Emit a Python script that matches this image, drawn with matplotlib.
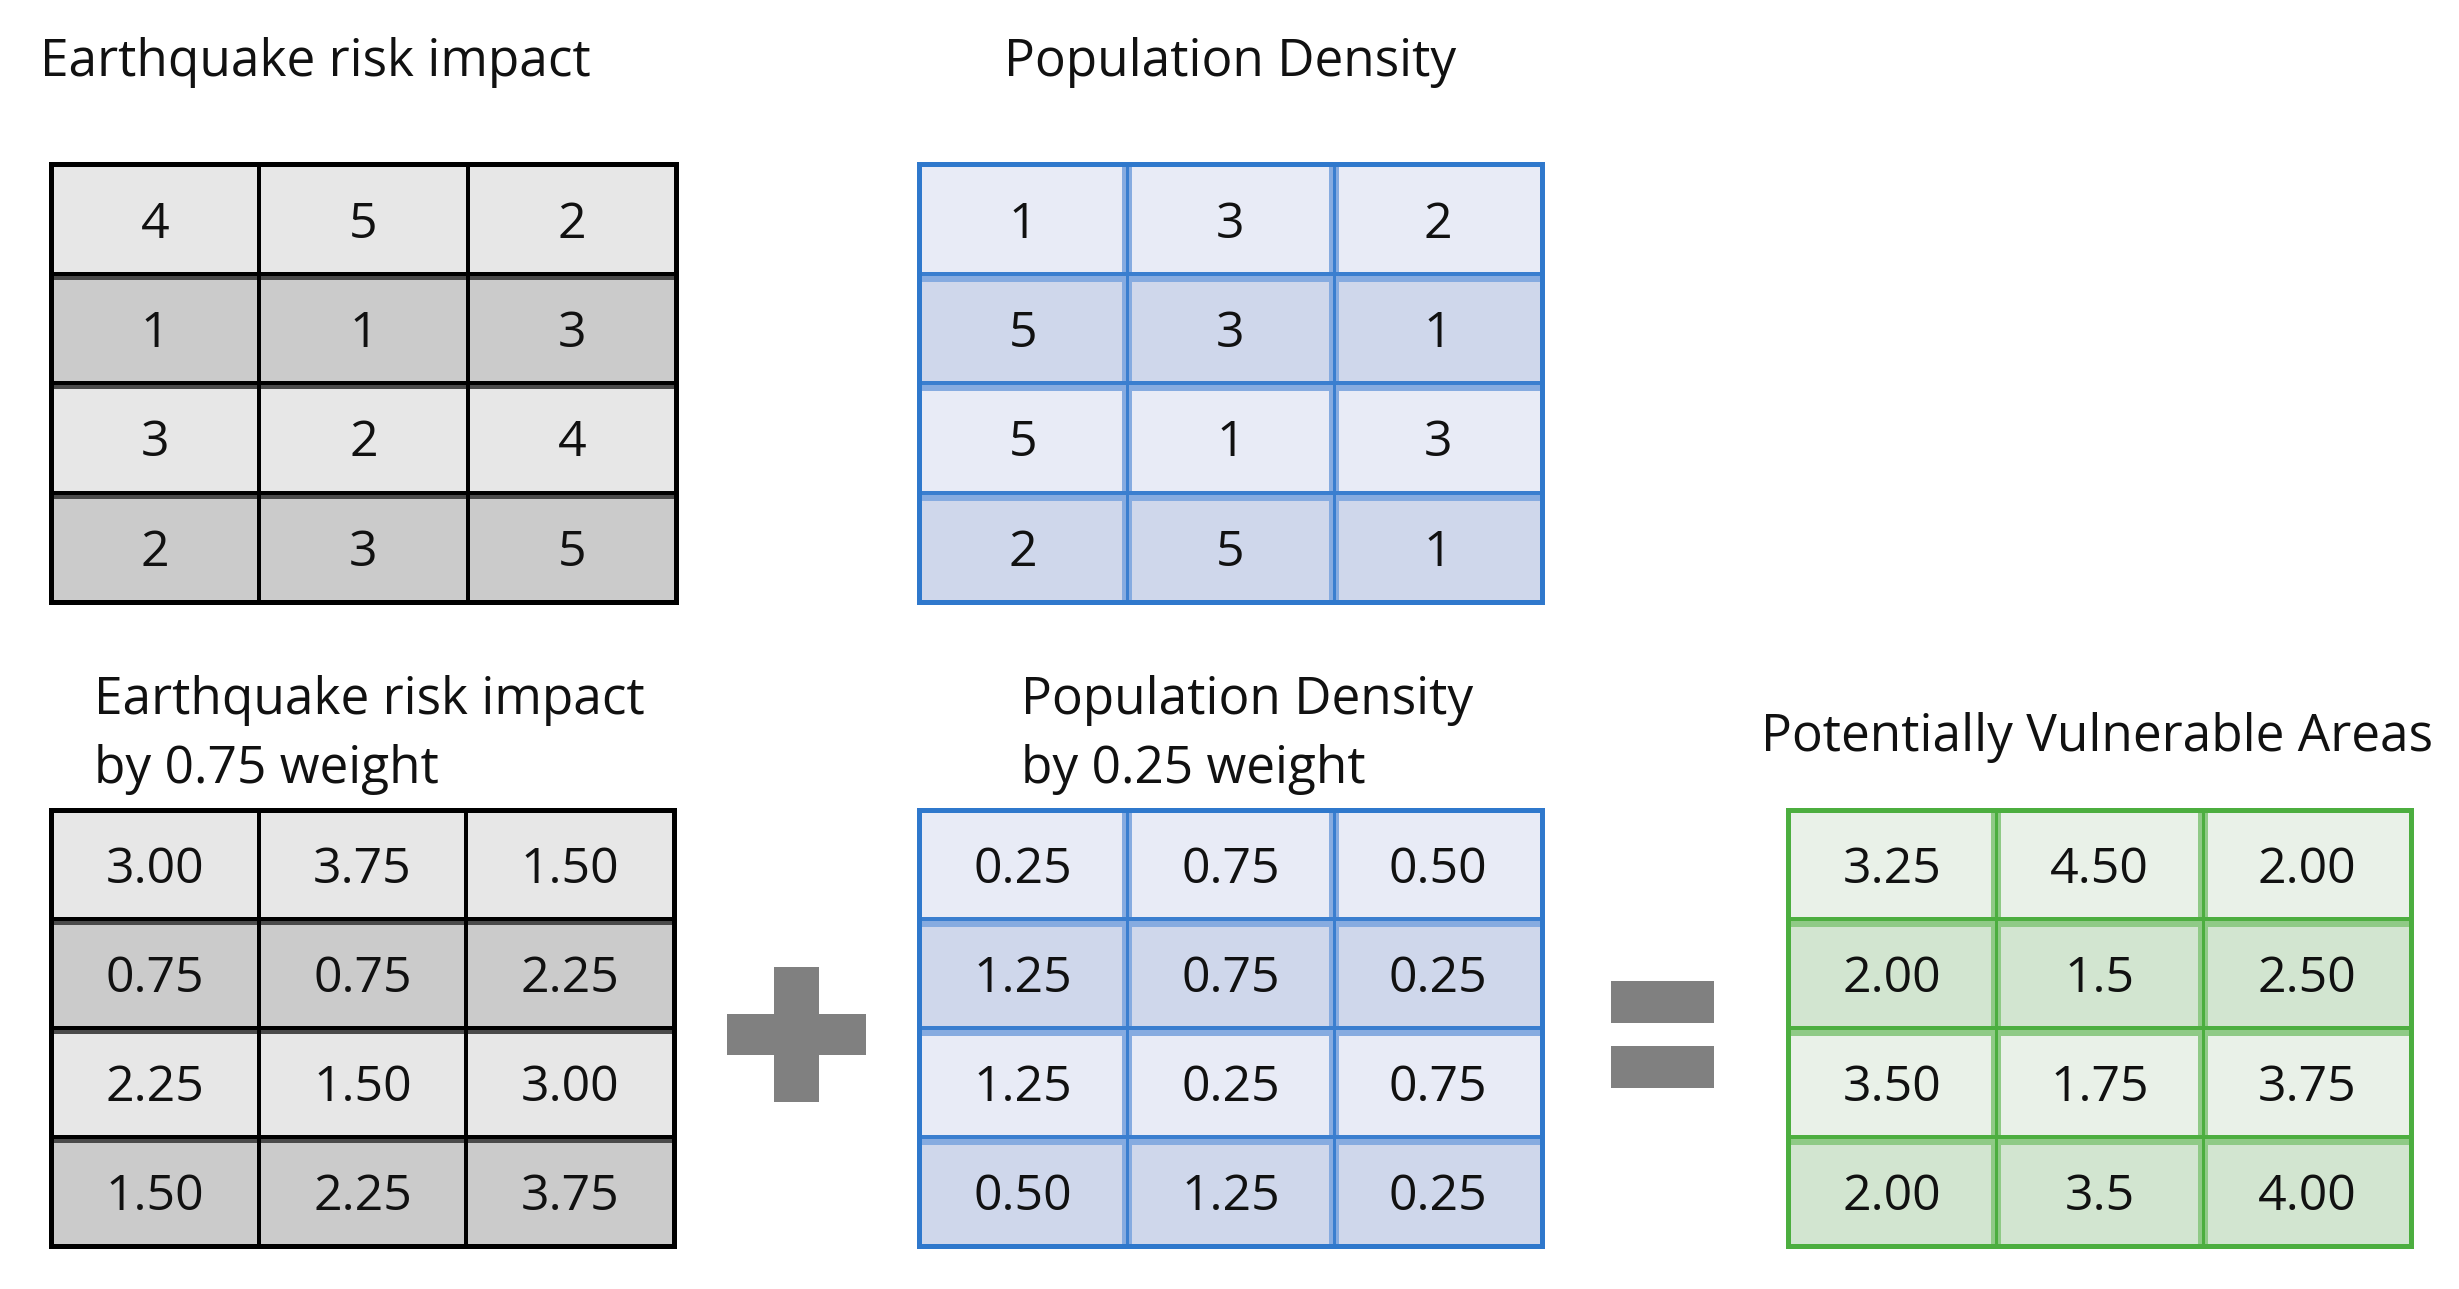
import matplotlib
matplotlib.use("Agg")
import matplotlib.pyplot as plt
from matplotlib.patches import Rectangle

# ---------------- data ----------------
quake_values = [[4, 5, 2],
                [1, 1, 3],
                [3, 2, 4],
                [2, 3, 5]]
pop_values = [[1, 3, 2],
              [5, 3, 1],
              [5, 1, 3],
              [2, 5, 1]]
quake_weighted = [["3.00", "3.75", "1.50"],
                  ["0.75", "0.75", "2.25"],
                  ["2.25", "1.50", "3.00"],
                  ["1.50", "2.25", "3.75"]]
pop_weighted = [["0.25", "0.75", "0.50"],
                ["1.25", "0.75", "0.25"],
                ["1.25", "0.25", "0.75"],
                ["0.50", "1.25", "0.25"]]
vulnerable = [["3.25", "4.50", "2.00"],
              ["2.00", "1.5", "2.50"],
              ["3.50", "1.75", "3.75"],
              ["2.00", "3.5", "4.00"]]

title_quake = "Earthquake risk impact"
title_pop = "Population Density"
title_quake_w = ["Earthquake risk impact", "by 0.75 weight"]
title_pop_w = ["Population Density", "by 0.25 weight"]
title_vuln = "Potentially Vulnerable Areas"

# ---------------- figure ----------------
W, H = 2459, 1289
fig = plt.figure(figsize=(W / 100, H / 100), dpi=100)
ax = fig.add_axes([0, 0, 1, 1])
ax.set_xlim(0, W)
ax.set_ylim(H, 0)
ax.axis("off")

FONT = "Open Sans"
NUM_FS = 36
TITLE_FS = 37
px = 72 / 100  # points per pixel

styles = {
    "gray": dict(light="#e7e7e7", dark="#cbcbcb", outer="#000000",
                 band="#4a4a4a", inner="#000000"),
    "blue": dict(light="#e8ebf6", dark="#cfd7eb", outer="#2f78cc",
                 band="#86abe0", inner="#3a7ecf"),
    "green": dict(light="#e9f1e8", dark="#d2e5d0", outer="#4cae3f",
                  band="#8fca86", inner="#4cae3f"),
}


def draw_table(x0, y0, x1, y1, labels, style):
    st = styles[style]
    nr, nc = len(labels), len(labels[0])
    cw = (x1 - x0) / nc
    rh = (y1 - y0) / nr
    for r in range(nr):
        fc = st["light"] if r % 2 == 0 else st["dark"]
        for c in range(nc):
            ax.add_patch(Rectangle((x0 + c * cw, y0 + r * rh), cw, rh,
                                   facecolor=fc, edgecolor="none", zorder=1))
            ax.text(x0 + (c + 0.5) * cw, y0 + (r + 0.5) * rh, str(labels[r][c]),
                    ha="center", va="center_baseline", fontsize=NUM_FS,
                    family=FONT, color="#111111", zorder=5)
    # inner lines: soft band + crisp core
    for r in range(1, nr):
        y = y0 + r * rh
        if style == "gray":
            ax.plot([x0, x1], [y + 3, y + 3], color=st["band"], lw=6 * px,
                    solid_capstyle="butt", zorder=2)
            ax.plot([x0, x1], [y, y], color=st["inner"], lw=4 * px,
                    solid_capstyle="butt", zorder=3)
        else:
            ax.plot([x0, x1], [y + 3, y + 3], color=st["band"], lw=9 * px,
                    solid_capstyle="butt", zorder=2)
            ax.plot([x0, x1], [y, y], color=st["inner"], lw=4 * px,
                    solid_capstyle="butt", zorder=3)
    for c in range(1, nc):
        x = x0 + c * cw
        if style == "gray":
            ax.plot([x, x], [y0, y1], color=st["inner"], lw=4 * px,
                    solid_capstyle="butt", zorder=3)
        else:
            ax.plot([x, x], [y0, y1], color=st["band"], lw=10 * px,
                    solid_capstyle="butt", zorder=2)
            ax.plot([x, x], [y0, y1], color=st["inner"], lw=3 * px,
                    solid_capstyle="butt", zorder=3)
    ax.add_patch(Rectangle((x0, y0), x1 - x0, y1 - y0, facecolor="none",
                           edgecolor=st["outer"], lw=5 * px, zorder=4,
                           joinstyle="miter"))


# top row
draw_table(51, 164, 676, 602, quake_values, "gray")
draw_table(919, 164, 1542, 602, pop_values, "blue")
# bottom row
draw_table(51, 810, 674, 1246, quake_weighted, "gray")
draw_table(919, 810, 1542, 1246, pop_weighted, "blue")
draw_table(1788, 810, 2411, 1246, vulnerable, "green")

# titles
tkw = dict(fontsize=TITLE_FS, family=FONT, color="#111111", va="baseline")
ax.text(40, 76, title_quake, ha="left", **tkw)
ax.text(1230, 76, title_pop, ha="center", **tkw)
ax.text(94, 714, title_quake_w[0], ha="left", **tkw)
ax.text(94, 783, title_quake_w[1], ha="left", **tkw)
ax.text(1021, 714, title_pop_w[0], ha="left", **tkw)
ax.text(1021, 783, title_pop_w[1], ha="left", **tkw)
ax.text(2097, 751, title_vuln, ha="center", **tkw)

# plus sign
op_color = "#808080"
ax.add_patch(Rectangle((727, 1014), 139, 41, facecolor=op_color, edgecolor="none"))
ax.add_patch(Rectangle((774, 967), 45, 135, facecolor=op_color, edgecolor="none"))
# equals sign
ax.add_patch(Rectangle((1611, 981), 103, 42, facecolor=op_color, edgecolor="none"))
ax.add_patch(Rectangle((1611, 1046), 103, 42, facecolor=op_color, edgecolor="none"))

fig.savefig("out.png", dpi=100, facecolor="white")
